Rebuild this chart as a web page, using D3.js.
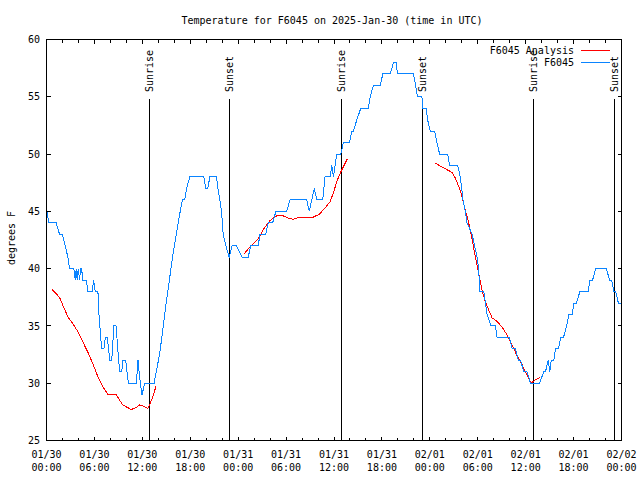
<!DOCTYPE html>
<html><head><meta charset="utf-8">
<script src="https://cdn.jsdelivr.net/npm/d3@7"></script>
<style>
html,body{margin:0;padding:0;background:#fff;}
text{font-family:"DejaVu Sans Mono",monospace;font-size:10px;fill:#000;}
</style></head>
<body><svg id="c" width="640" height="480"></svg>
<script>
// ---- data (hours since 2025-01-30 00:00 UTC, degrees F) ----
const obsHours = [0.04,0.29,1.21,1.63,1.97,2.34,2.68,2.89,3.43,3.60,3.72,3.85,3.97,4.14,4.27,4.39,4.56,4.98,5.19,5.73,5.90,6.11,6.44,6.57,6.90,7.19,7.36,7.61,7.78,7.90,8.16,8.28,8.41,8.70,8.82,9.03,9.20,9.41,9.58,9.91,10.08,10.25,11.25,11.46,11.59,11.75,11.96,12.30,13.47,14.18,15.02,15.85,16.69,17.03,17.31,17.53,17.94,19.70,19.95,20.20,20.45,21.29,21.46,21.71,21.92,22.12,22.46,22.87,23.25,23.80,24.50,25.26,25.56,26.51,26.73,27.44,27.77,28.32,28.73,30.08,30.49,32.58,32.91,33.21,33.54,33.84,34.59,34.88,35.51,35.72,35.92,36.14,36.35,36.85,37.18,37.93,38.23,38.43,38.86,39.36,40.31,40.53,40.94,41.78,42.12,43.04,43.45,43.79,43.95,45.96,46.46,47.01,47.14,47.55,47.72,48.06,48.59,48.90,49.22,50.23,50.48,51.48,51.82,52.16,52.45,52.66,53.29,53.92,54.12,54.24,54.75,54.96,55.17,55.67,56.21,56.42,57.97,58.31,58.72,59.10,59.35,59.77,60.17,60.60,61.73,62.27,62.48,62.82,63.02,63.20,63.53,63.74,64.12,64.37,64.74,65.12,65.41,65.83,66.04,66.37,66.79,67.84,68.04,68.38,68.76,70.10,70.51,70.77,71.05,71.27,71.61,71.90];
const obsTemps = [45,44,44,43,43,42,41,40,40,39,40,39,40,39,40,40,39,39,38,38,39,38,38,36,33,33,34,34,33,32,32,33,35,35,34,32,31,31,32,32,31,30,30,32,31,30,29,30,30,32.6,37.2,41.3,44.8,46,46,47,48,48,47,47,48,48,47,46,45,43,42,41,42,42,41,41,42,42,43,43,44,44,45,45,46,46,45,46,47,46,46,48,48,49,48,49,50,50,51,51,52,52,53,54,54,55,56,56,57,57,58,58,57,57,55,55,54,54,53,52,52,51,50,50,49,49,48,46,45,44,43,41,40,38,38,37,36,35,35,34,34,33,33,32,32,31,31,30,30,31,31,32,31,32,32,33,33,34,34,35,36,36,37,37,38,38,39,39,40,40,39,39,38,38,37,37];

const anaHours1 = [0.66,1.22,1.63,2.05,2.67,3.30,3.93,4.55,5.18,5.81,6.44,7.06,7.69,8.75,9.16,9.57,10.08,10.63,11.25,11.67,12.08,12.71,13.14,13.71];
const anaTemps1 = [38.2,37.8,37.5,36.8,35.8,35.2,34.5,33.6,32.7,31.7,30.55,29.7,29.0,29.0,28.5,28.1,27.9,27.7,27.9,28.1,28.0,27.8,28.5,29.7];
const anaHours2 = [24.76,25.6,26.51,27.14,27.98,28.82,29.65,30.28,30.90,31.74,32.58,33.41,34.17,34.88,35.51,35.92,36.35,36.76,37.18,37.68];
const anaTemps2 = [41.3,42.0,42.6,43.4,44.2,44.6,44.6,44.4,44.3,44.5,44.5,44.5,44.75,45.3,45.85,46.6,47.6,48.3,48.9,49.6];
const anaHours3 = [48.68,49.72,50.78,51.19,51.61,52.03,52.45,52.86,53.29,53.70,54.12,54.54,54.96,55.37,55.80,56.42,57.05,57.68,58.31,58.93,59.56,60.19,60.69,61.23,61.77];
const anaTemps3 = [49.2,48.8,48.4,47.9,47.2,46.3,45.1,44.0,42.6,41.0,39.6,38.1,37.1,36.4,35.7,35.4,34.9,34.2,33.3,32.4,31.6,30.7,30.0,30.3,30.5];

const sunHours = [12.84,22.87,36.85,46.96,60.89,71.05];
const sunLabels = ["Sunrise","Sunset","Sunrise","Sunset","Sunrise","Sunset"];

const xTickHours = [0,6,12,18,24,30,36,42,48,54,60,66,72];
const xTickDates = ["01/30","01/30","01/30","01/30","01/31","01/31","01/31","01/31","02/01","02/01","02/01","02/01","02/02"];
const xTickTimes = ["00:00","06:00","12:00","18:00","00:00","06:00","12:00","18:00","00:00","06:00","12:00","18:00","00:00"];
const yTicks = [25,30,35,40,45,50,55,60];

const titleText = "Temperature for F6045 on 2025-Jan-30 (time in UTC)";
const yLabelText = "degrees F";
const seriesNames = ["F6045 Analysis","F6045"];
const seriesColors = ["#ff0000","#0a84ff"];

// ---- drawing ----
const svg = d3.select("#c");
const L = 46.5, R = 621.5, T = 39.5, B = 440.5;
const x = d3.scaleLinear().domain([0,72]).range([L,R]);
const y = d3.scaleLinear().domain([25,60]).range([B,T]);

// title
svg.append("text").attr("x",332).attr("y",24).attr("text-anchor","middle").text(titleText);
// y label
svg.append("text").attr("transform","translate(15,238) rotate(-90)").attr("text-anchor","middle").text(yLabelText);

// ticks
const minor = d3.range(0,73,2).filter(h=>h%6!==0);
const g = svg.append("g").attr("stroke","#000").attr("stroke-width",1).attr("shape-rendering","crispEdges");
xTickHours.forEach(h=>{
  g.append("line").attr("x1",x(h)).attr("x2",x(h)).attr("y1",B).attr("y2",B-4);
  g.append("line").attr("x1",x(h)).attr("x2",x(h)).attr("y1",T).attr("y2",T+4);
});
minor.forEach(h=>{
  g.append("line").attr("x1",x(h)).attr("x2",x(h)).attr("y1",B).attr("y2",B-3);
  g.append("line").attr("x1",x(h)).attr("x2",x(h)).attr("y1",T).attr("y2",T+3);
});
yTicks.forEach(v=>{
  g.append("line").attr("x1",L).attr("x2",L+4).attr("y1",y(v)).attr("y2",y(v));
  g.append("line").attr("x1",R).attr("x2",R-4).attr("y1",y(v)).attr("y2",y(v));
});
// tick labels
yTicks.forEach(v=>{
  svg.append("text").attr("x",40).attr("y",y(v)+3.6).attr("text-anchor","end").text(v);
});
xTickHours.forEach((h,i)=>{
  svg.append("text").attr("x",x(h)).attr("y",457.5).attr("text-anchor","middle").text(xTickDates[i]);
  svg.append("text").attr("x",x(h)).attr("y",471).attr("text-anchor","middle").text(xTickTimes[i]);
});

// sun lines
sunHours.forEach((h,i)=>{
  const sx = Math.round(x(h)) + 0.5;
  g.append("line").attr("x1",sx).attr("x2",sx).attr("y1",99).attr("y2",B);
  svg.append("text").attr("transform",`translate(${sx+3.5},92) rotate(-90)`).attr("text-anchor","start").text(sunLabels[i]);
});

// series
const line = d3.line().x(d=>x(d[0])).y(d=>y(d[1]));
const zip = (a,b)=>a.map((v,i)=>[v,b[i]]);
[[anaHours1,anaTemps1],[anaHours2,anaTemps2],[anaHours3,anaTemps3]].forEach(([h,t])=>{
  svg.append("path").attr("d",line(zip(h,t))).attr("fill","none").attr("stroke",seriesColors[0]).attr("stroke-width",1).attr("shape-rendering","crispEdges");
});
svg.append("path").attr("d",line(zip(obsHours,obsTemps))).attr("fill","none").attr("stroke",seriesColors[1]).attr("stroke-width",1).attr("shape-rendering","crispEdges");

// border
svg.append("rect").attr("x",L).attr("y",T).attr("width",R-L).attr("height",B-T).attr("fill","none").attr("stroke","#000").attr("shape-rendering","crispEdges");

// legend
seriesNames.forEach((n,i)=>{
  const ly = 50.5 + i*12;
  svg.append("text").attr("x",574).attr("y",ly+3.6).attr("text-anchor","end").text(n);
  svg.append("line").attr("x1",581).attr("x2",610).attr("y1",ly).attr("y2",ly).attr("stroke",seriesColors[i]).attr("stroke-width",1).attr("shape-rendering","crispEdges");
});
</script></body></html>
